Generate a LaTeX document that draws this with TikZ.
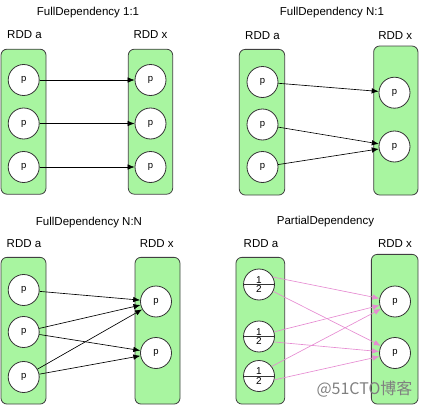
\documentclass[tikz,border=0pt]{standalone}
\usepackage{fontspec}
\setmainfont{Liberation Sans}
\newfontfamily\cjkfont{Noto Sans CJK SC}
\usetikzlibrary{arrows.meta,shapes.multipart}
\definecolor{rddgreen}{RGB}{168,245,160}
\definecolor{deppink}{RGB}{230,140,210}

\begin{document}
\begin{tikzpicture}[x=1pt, y=-1pt]
		\tikzset{rdd/.style={rectangle, draw=black!75, fill=rddgreen, rounded corners=6pt, line width=0.8pt, inner sep=0pt}};
		\tikzset{pt/.style={circle, draw=black!80, fill=white, line width=0.8pt, minimum size=31pt, inner sep=0pt, font=\fontsize{9.5}{10}\selectfont}};
		\tikzset{half/.style={circle split, draw=black!80, fill=white, line width=0.8pt, minimum size=31pt, inner sep=1pt, font=\fontsize{10}{11}\selectfont}};
		\tikzset{lbl/.style={inner sep=0pt, font=\fontsize{11.5}{13}\selectfont}};
		\tikzset{dep/.style={-{Latex[length=7pt, width=5.5pt]}, line width=0.65pt}};
		\tikzset{pdep/.style={dep, deppink}};

		\useasboundingbox (0,0) rectangle (424,407);

		% FullDependency 1:1
		\node[lbl] (ot) at (88, 13) {FullDependency 1:1};
		\node[lbl] (ola) at (24.5, 35) {RDD a};
		\node[lbl] (olx) at (150.5, 35) {RDD x};
		\node[rdd, minimum width=45pt, minimum height=145pt] (oa) at (23.5, 121.7) {};
		\node[rdd, minimum width=44.4pt, minimum height=145pt] (ox) at (150.5, 121.7) {};
		\node[pt] (oa1) at (23.7, 80) {p};
		\node[pt] (oa2) at (23.7, 123.5) {p};
		\node[pt] (oa3) at (23.7, 167) {p};
		\node[pt] (ox1) at (150.5, 80) {p};
		\node[pt] (ox2) at (150.5, 123.5) {p};
		\node[pt] (ox3) at (150.5, 167) {p};

		\draw[dep] (oa1) to (ox1);
		\draw[dep] (oa2) to (ox2);
		\draw[dep] (oa3) to (ox3);

		% FullDependency N:1
		\node[lbl] (nt) at (332, 13) {FullDependency N:1};
		\node[lbl] (nla) at (262.5, 35.8) {RDD a};
		\node[lbl] (nlx) at (395.3, 35.8) {RDD x};
		\node[rdd, minimum width=45.4pt, minimum height=145.7pt] (na) at (262, 122.2) {};
		\node[rdd, minimum width=44.3pt, minimum height=149pt] (nx) at (395.8, 120.5) {};
		\node[pt] (na1) at (262.5, 82) {p};
		\node[pt] (na2) at (262.5, 124.5) {p};
		\node[pt] (na3) at (262.5, 167) {p};
		\node[pt] (nx1) at (394.5, 92.7) {p};
		\node[pt] (nx2) at (394.5, 146.5) {p};

		\draw[dep] (na1) to (nx1);
		\draw[dep] (na2) to (nx2);
		\draw[dep] (na3) to (nx2);

		% FullDependency N:N
		\node[lbl] (mt) at (89, 223) {FullDependency N:N};
		\node[lbl] (mla) at (24, 243.8) {RDD a};
		\node[lbl] (mlx) at (156.7, 243.8) {RDD x};
		\node[rdd, minimum width=45pt, minimum height=146.7pt] (ma) at (23.5, 330.7) {};
		\node[rdd, minimum width=45pt, minimum height=146.7pt] (mx) at (157.5, 330.7) {};
		\node[pt] (ma1) at (23.7, 290) {p};
		\node[pt] (ma2) at (23.7, 332) {p};
		\node[pt] (ma3) at (23.7, 377) {p};
		\node[pt] (mx1) at (156, 301.5) {p};
		\node[pt] (mx2) at (156, 353) {p};

		\draw[dep] (ma1) to (mx1);
		\draw[dep] (ma2) to (mx1);
		\draw[dep] (ma2) to (mx2);
		\draw[dep] (ma3) to (mx1);
		\draw[dep] (ma3) to (mx2);

		% PartialDependency
		\node[lbl] (pt) at (325.5, 221.7) {PartialDependency};
		\node[lbl] (pla) at (261, 244) {RDD a};
		\node[lbl] (plx) at (395, 244) {RDD x};
		\node[rdd, minimum width=48.7pt, minimum height=146.7pt] (pa) at (260.3, 330.7) {};
		\node[rdd, minimum width=46.7pt, minimum height=149.7pt] (px) at (394.7, 329.2) {};
		\node[half] (pa1) at (259, 284.5) {1 \nodepart{lower} 2};
		\node[half] (pa2) at (259, 336.5) {1 \nodepart{lower} 2};
		\node[half] (pa3) at (259, 376) {1 \nodepart{lower} 2};
		\node[pt] (px1) at (395, 301.5) {p};
		\node[pt] (px2) at (395, 353) {p};

		\draw[pdep] (pa1.28) to (px1);
		\draw[pdep] (pa1.-26) to (px2);
		\draw[pdep] (pa2.17) to (px1);
		\draw[pdep] (pa2.-20) to (px2);
		\draw[pdep] (pa3.37) to (px1);
		\draw[pdep] (pa3.-14) to (px2);

		\node[text=black!50, inner sep=0pt, font=\cjkfont\fontsize{16}{18}\selectfont] (wm) at (364.5, 389.5) {@51CTO博客};

	\end{tikzpicture}
\end{document}
